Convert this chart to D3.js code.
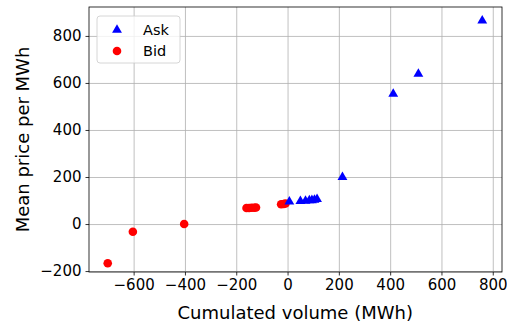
<!DOCTYPE html>
<html>
<head>
<meta charset="utf-8">
<script src="https://cdn.jsdelivr.net/npm/d3@7"></script>
<style>
  body { margin: 0; background: #fff; }
  svg { font-family: "DejaVu Sans", sans-serif; }
  .grid line { stroke: #b0b0b0; stroke-width: 0.8; }
  .grid path { display: none; }
  .axis line, .axis path { stroke: #000; stroke-width: 0.8; }
</style>
</head>
<body>
<svg width="507" height="325"></svg>
<script>
// ask side (cumulated volume, mean price)
const askVolume = [7, 50, 70, 85, 95, 105, 115, 214, 412, 510, 759];
const askPrice = [95, 97, 98, 100, 101, 103, 106, 199, 553, 638, 865];
// bid side
const bidVolume = [-701, -603, -403, -160, -150, -140, -130, -123, -25, -15, -8];
const bidPrice = [-167, -33, 0, 68, 68, 69, 69, 70, 84, 85, 87];

const xTicks = [-600, -400, -200, 0, 200, 400, 600, 800];
const yTicks = [-200, 0, 200, 400, 600, 800];

const svg = d3.select("svg");
const margin = { left: 89, right: 5, top: 7, bottom: 53 };
const width = 507, height = 325;

const x = d3.scaleLinear().domain([-774, 836]).range([margin.left, width - margin.right]);
const y = d3.scaleLinear().domain([-204, 923]).range([height - margin.bottom, margin.top]);

const fmt = d => d < 0 ? "\u2212" + Math.abs(d) : String(d);

// grid
svg.append("g").attr("class", "grid")
  .attr("transform", `translate(0,${height - margin.bottom})`)
  .call(d3.axisBottom(x).tickValues(xTicks).tickSize(-(height - margin.top - margin.bottom)).tickFormat(""));
svg.append("g").attr("class", "grid")
  .attr("transform", `translate(${margin.left},0)`)
  .call(d3.axisLeft(y).tickValues(yTicks).tickSize(-(width - margin.left - margin.right)).tickFormat(""));

// points
const bids = bidVolume.map((v, i) => [v, bidPrice[i]]);
const asks = askVolume.map((v, i) => [v, askPrice[i]]);

svg.append("g").selectAll("circle")
  .data(bids).enter().append("circle")
  .attr("cx", d => x(d[0]))
  .attr("cy", d => y(d[1]))
  .attr("r", 4.3)
  .attr("fill", "red");

const tri = d3.symbol().type(d3.symbolTriangle).size(42);
svg.append("g").selectAll("path")
  .data(asks).enter().append("path")
  .attr("d", tri)
  .attr("transform", d => `translate(${x(d[0])},${y(d[1])})`)
  .attr("fill", "blue");

// frame
svg.append("rect")
  .attr("x", margin.left).attr("y", margin.top)
  .attr("width", width - margin.left - margin.right)
  .attr("height", height - margin.top - margin.bottom)
  .attr("fill", "none").attr("stroke", "#000").attr("stroke-width", 0.8);

// axes
svg.append("g").attr("class", "axis")
  .attr("transform", `translate(0,${height - margin.bottom})`)
  .call(d3.axisBottom(x).tickValues(xTicks).tickSize(3.5).tickPadding(4).tickFormat(fmt))
  .call(g => g.select(".domain").remove());
svg.append("g").attr("class", "axis")
  .attr("transform", `translate(${margin.left},0)`)
  .call(d3.axisLeft(y).tickValues(yTicks).tickSize(3.5).tickPadding(4).tickFormat(fmt))
  .call(g => g.select(".domain").remove());

svg.selectAll(".axis text")
  .style("font-family", "DejaVu Sans")
  .style("font-size", "15px")
  .style("fill", "#000");

// labels
svg.append("text")
  .attr("x", x(30)).attr("y", 319)
  .attr("text-anchor", "middle")
  .style("font-size", "18px")
  .text("Cumulated volume (MWh)");
svg.append("text")
  .attr("transform", `translate(29,${(margin.top + height - margin.bottom) / 2}) rotate(-90)`)
  .attr("text-anchor", "middle")
  .style("font-size", "18px")
  .text("Mean price per MWh");

// legend
const lg = svg.append("g").attr("transform", "translate(97,16)");
lg.append("rect")
  .attr("width", 83).attr("height", 47).attr("rx", 3)
  .attr("fill", "#fff").attr("fill-opacity", 0.8)
  .attr("stroke", "#ccc").attr("stroke-width", 0.8);
lg.append("path").attr("d", tri).attr("transform", "translate(20,14)").attr("fill", "blue");
lg.append("circle").attr("cx", 20).attr("cy", 35).attr("r", 4.3).attr("fill", "red");
lg.append("text").attr("x", 46).attr("y", 19).style("font-size", "14.5px").text("Ask");
lg.append("text").attr("x", 46).attr("y", 40).style("font-size", "14.5px").text("Bid");
</script>
</body>
</html>
